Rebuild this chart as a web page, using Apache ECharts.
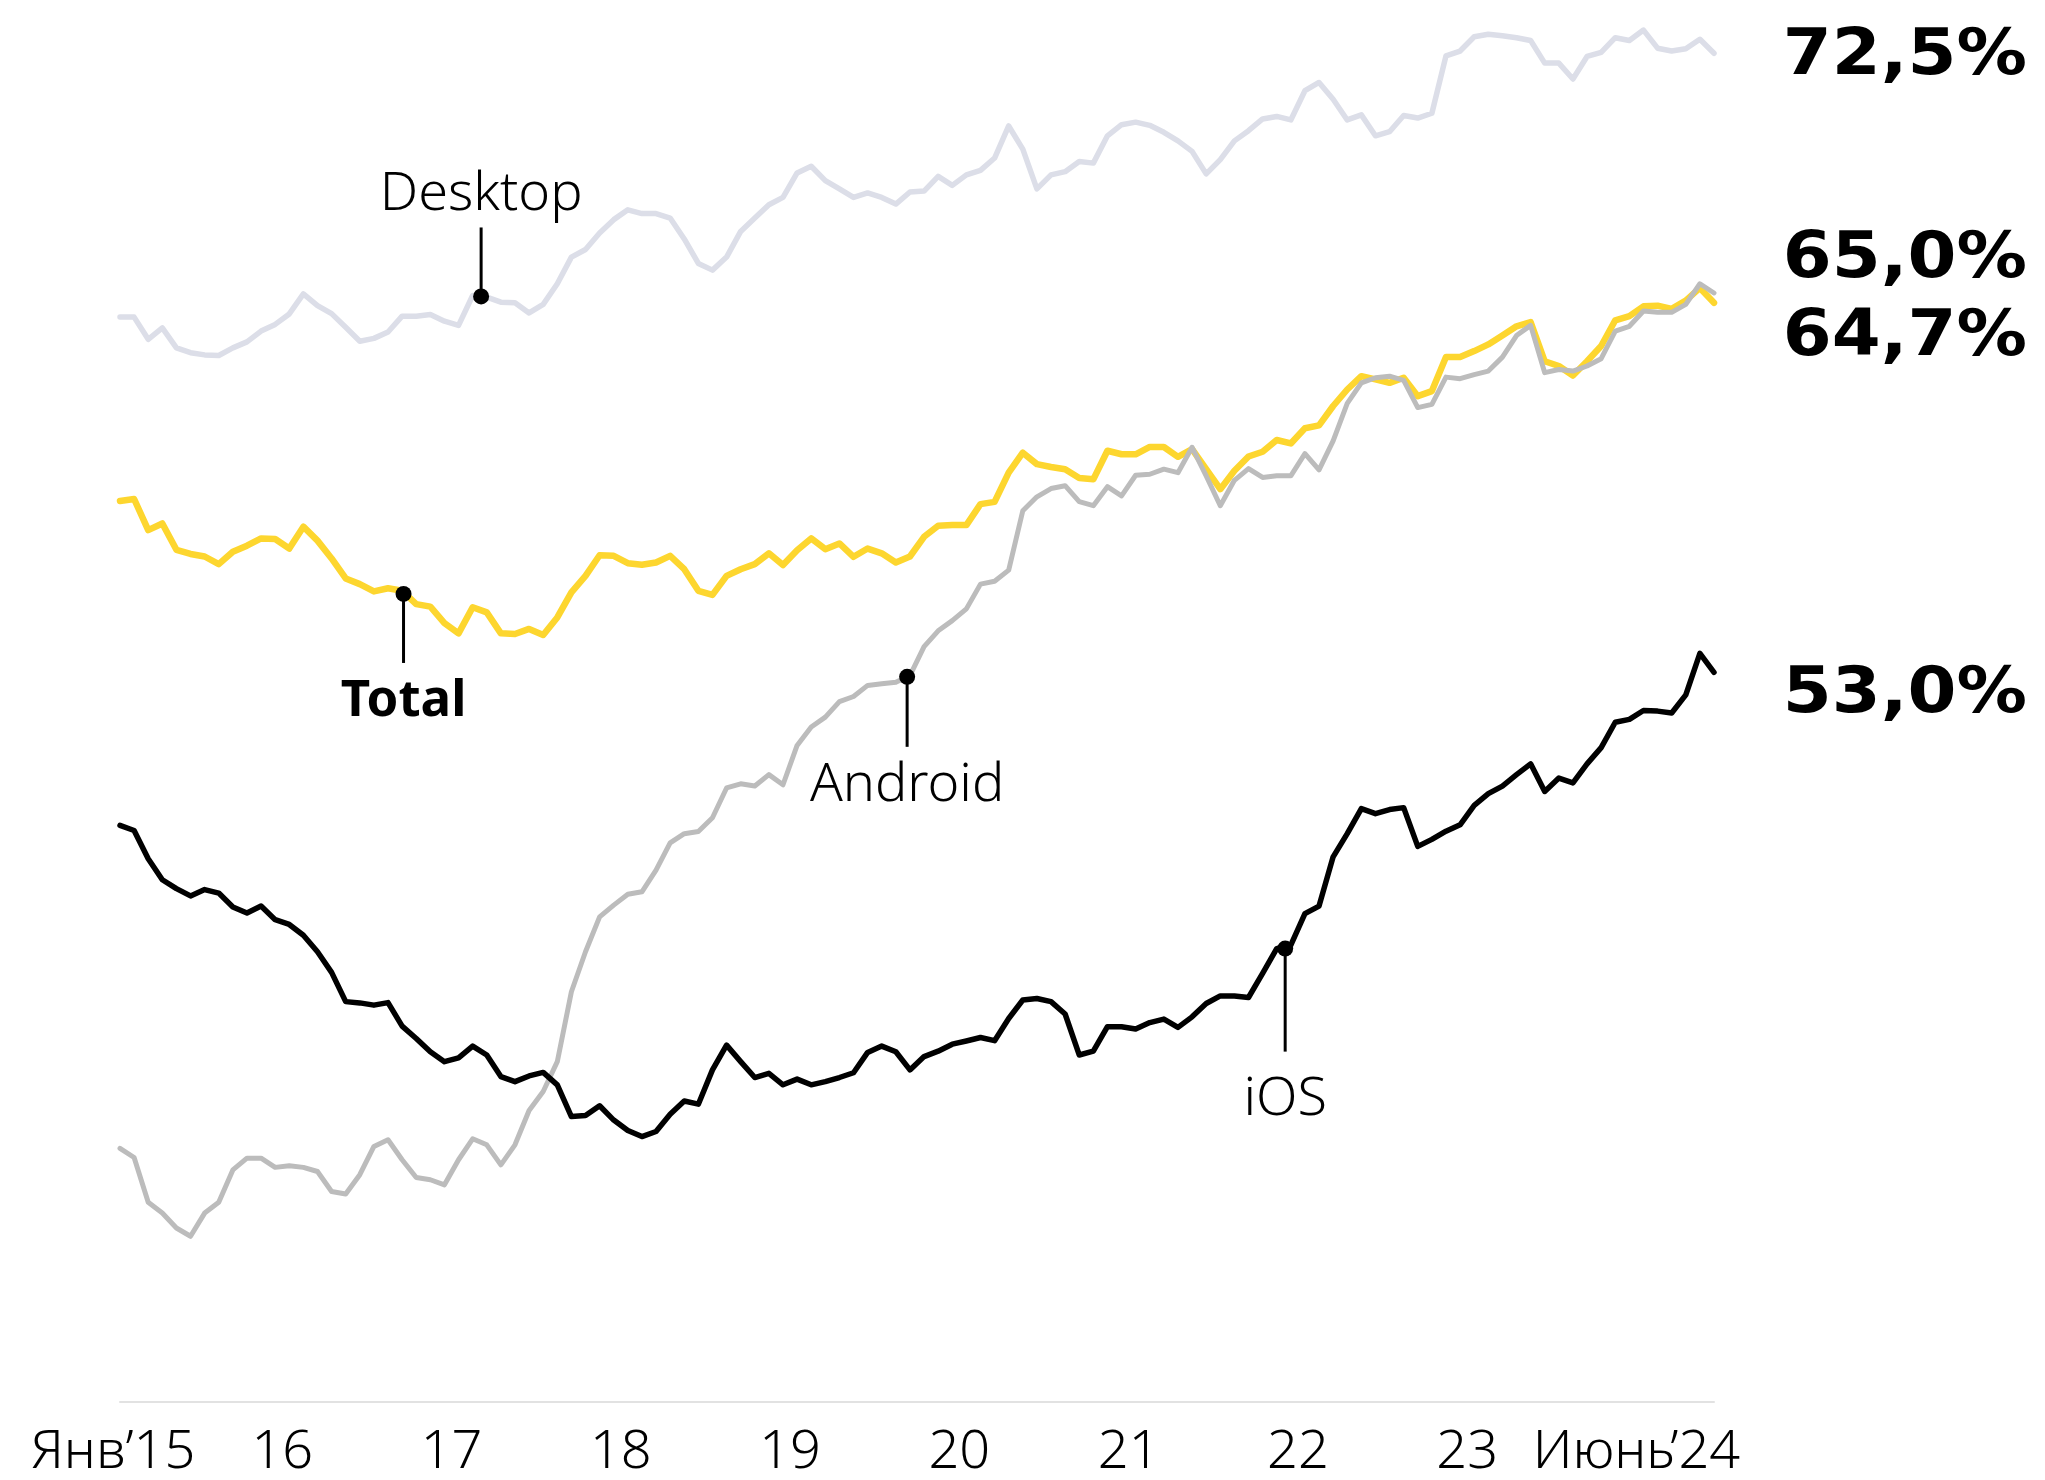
<!DOCTYPE html>
<html lang="ru">
<head>
<meta charset="UTF-8">
<title>Desktop / Total / Android / iOS</title>
<script src="https://cdn.jsdelivr.net/npm/echarts@6/dist/echarts.min.js"></script>
<style>
    html, body { margin: 0; padding: 0; background: #ffffff; }
    #chart { width: 2045px; height: 1480px; }
</style>
</head>
<body>
<div id="chart"></div>
<script>
// месяцы: Янв'15 ... Июнь'24 (114 точек)
var xTickLabels = ['Янв’15', '16', '17', '18', '19', '20', '21', '22', '23', 'Июнь’24'];

var desktop = [64.17,64.17,63.47,63.83,63.20,63.05,62.98,62.96,63.20,63.39,
    63.73,63.94,64.27,64.90,64.53,64.28,63.85,63.41,63.50,63.70,
    64.20,64.20,64.25,64.04,63.91,64.85,64.80,64.64,64.62,64.30,
    64.57,65.22,66.06,66.30,66.82,67.24,67.55,67.43,67.43,67.29,
    66.63,65.86,65.65,66.06,66.87,67.29,67.71,67.94,68.71,68.92,
    68.47,68.21,67.94,68.08,67.94,67.73,68.11,68.14,68.60,68.32,
    68.65,68.79,69.18,70.19,69.46,68.21,68.65,68.75,69.07,69.02,
    69.88,70.23,70.31,70.21,69.99,69.72,69.39,68.68,69.13,69.72,
    70.04,70.41,70.49,70.38,71.30,71.56,71.03,70.38,70.54,69.88,
    70.01,70.52,70.44,70.59,72.40,72.55,73.00,73.08,73.03,72.97,
    72.88,72.17,72.17,71.67,72.38,72.51,72.97,72.88,73.21,72.64,
    72.55,72.62,72.92,72.48];

var total = [58.38,58.44,57.46,57.67,56.84,56.71,56.63,56.39,56.78,56.97,
    57.20,57.18,56.88,57.57,57.13,56.57,55.94,55.76,55.53,55.63,
    55.55,55.13,55.05,54.53,54.21,55.03,54.87,54.21,54.19,54.35,
    54.16,54.71,55.50,56.02,56.67,56.65,56.42,56.37,56.44,56.65,
    56.23,55.55,55.42,56.02,56.23,56.39,56.73,56.36,56.83,57.20,
    56.86,57.04,56.62,56.88,56.73,56.44,56.63,57.25,57.60,57.62,
    57.62,58.28,58.35,59.27,59.90,59.54,59.45,59.38,59.10,59.06,
    59.96,59.85,59.85,60.08,60.08,59.77,60.01,59.38,58.75,59.33,
    59.78,59.93,60.30,60.19,60.67,60.76,61.37,61.89,62.31,62.21,
    62.10,62.26,61.68,61.84,62.91,62.91,63.10,63.31,63.59,63.88,
    64.01,62.78,62.63,62.33,62.78,63.26,64.07,64.20,64.51,64.53,
    64.43,64.69,65.09,64.62];

var android = [37.99,37.70,36.29,35.95,35.48,35.22,35.95,36.29,37.31,37.68,
    37.68,37.39,37.44,37.39,37.26,36.63,36.55,37.16,38.05,38.26,
    37.63,37.07,37.00,36.84,37.63,38.29,38.10,37.47,38.10,39.18,
    39.78,40.72,42.92,44.18,45.28,45.65,45.99,46.07,46.75,47.61,
    47.90,47.97,48.40,49.34,49.47,49.40,49.76,49.44,50.68,51.26,
    51.57,52.06,52.22,52.57,52.62,52.67,52.88,53.79,54.29,54.61,
    54.98,55.76,55.85,56.20,58.07,58.51,58.77,58.86,58.36,58.23,
    58.83,58.54,59.19,59.22,59.38,59.27,60.07,59.17,58.23,59.03,
    59.40,59.12,59.17,59.17,59.87,59.36,60.27,61.45,62.10,62.26,
    62.31,62.18,61.32,61.42,62.28,62.23,62.36,62.47,62.91,63.59,
    63.91,62.42,62.52,62.47,62.63,62.86,63.73,63.88,64.36,64.32,
    64.32,64.57,65.22,64.93];

var ios = [48.16,48.00,47.11,46.45,46.17,45.94,46.14,46.03,45.59,45.40,
    45.62,45.19,45.04,44.70,44.18,43.53,42.61,42.57,42.50,42.58,
    41.84,41.45,41.03,40.72,40.84,41.21,40.93,40.25,40.09,40.27,
    40.38,39.99,38.99,39.02,39.33,38.88,38.55,38.36,38.52,39.06,
    39.48,39.38,40.46,41.24,40.72,40.22,40.35,39.99,40.17,39.99,
    40.09,40.22,40.37,41.01,41.21,41.03,40.46,40.88,41.05,41.27,
    41.37,41.48,41.38,42.08,42.66,42.71,42.61,42.22,40.93,41.05,
    41.82,41.82,41.75,41.95,42.06,41.80,42.13,42.55,42.79,42.79,
    42.74,43.50,44.28,44.39,45.38,45.62,47.17,47.90,48.69,48.53,
    48.66,48.72,47.50,47.72,47.98,48.18,48.79,49.16,49.40,49.76,
    50.10,49.23,49.65,49.50,50.10,50.61,51.41,51.50,51.78,51.76,
    51.70,52.27,53.58,52.98];

// подписи в конце линий
var endLabels = ['72,5%', '65,0%', '64,7%', '53,0%'];

// выноски: имя и точка на линии [месяц, значение]
var noteNames = ['Desktop', 'Total', 'Android', 'iOS'];
var noteAt = [[25.6, 64.82], [20.1, 55.45], [55.8, 52.84], [82.6, 44.28]];

function pairs(arr) {
    return arr.map(function (v, i) { return [i, v]; });
}

var myChart = echarts.init(document.getElementById('chart'), null, { renderer: 'canvas' });

var option = {
    backgroundColor: '#ffffff',
    animation: false,
    grid: { left: 120, right: 331, top: 5, bottom: 76 },
    xAxis: {
        type: 'value',
        min: 0,
        max: 113,
        interval: 12,
        axisLine: { show: true, lineStyle: { color: '#e2e2e2', width: 2 } },
        axisTick: { show: false },
        splitLine: { show: false },
        axisLabel: {
            showMaxLabel: false,
            margin: 24,
            padding: [0, 14, 0, 0],
            fontFamily: 'Noto Sans',
            fontWeight: 300,
            fontSize: 54,
            color: '#000000',
            formatter: function (v) {
                return (v % 12 === 0 && v <= 108) ? xTickLabels[v / 12] : '';
            }
        }
    },
    yAxis: {
        type: 'value',
        min: 30,
        max: 74,
        show: false,
        splitLine: { show: false }
    },
    series: [
        {
            name: 'Desktop', type: 'line', showSymbol: false, z: 1,
            lineStyle: { color: '#dcdee8', width: 5.5, join: 'round', cap: 'round' },
            data: pairs(desktop)
        },
        {
            name: 'Total', type: 'line', showSymbol: false, z: 2,
            lineStyle: { color: '#fdd62f', width: 6.5, join: 'round', cap: 'round' },
            data: pairs(total)
        },
        {
            name: 'Android', type: 'line', showSymbol: false, z: 3,
            lineStyle: { color: '#bcbcbc', width: 5, join: 'round', cap: 'round' },
            data: pairs(android)
        },
        {
            name: 'iOS', type: 'line', showSymbol: false, z: 4,
            lineStyle: { color: '#000000', width: 5.5, join: 'round', cap: 'round' },
            data: pairs(ios)
        }
    ]
};

myChart.setOption(option);

// выноски с точками и подписями
var leadLen = [-69, 69, 70, 103];     // длина линии от точки
var textShift = [-102, 108, 109, 151]; // центр подписи от точки
var graphics = [];
noteAt.forEach(function (pt, k) {
    var p = myChart.convertToPixel({ gridIndex: 0 }, pt);
    var bold = noteNames[k] === 'Total';
    graphics.push({
        type: 'line', z: 10,
        shape: { x1: p[0], y1: p[1], x2: p[0], y2: p[1] + leadLen[k] },
        style: { stroke: '#000', lineWidth: 3 }
    });
    graphics.push({
        type: 'circle', z: 11,
        shape: { cx: p[0], cy: p[1], r: 8 },
        style: { fill: '#000' }
    });
    graphics.push({
        type: 'text', z: 11,
        x: p[0],
        y: p[1] + textShift[k],
        style: {
            text: noteNames[k],
            fontFamily: 'Noto Sans',
            fontSize: bold ? 51 : 54,
            fontWeight: bold ? 'bold' : 300,
            fill: '#000',
            align: 'center',
            verticalAlign: 'middle'
        }
    });
});

// итоговые значения справа
var endY = [57, 260, 338, 695];
endLabels.forEach(function (t, k) {
    graphics.push({
        type: 'text', z: 11,
        x: 2027,
        y: endY[k],
        scaleX: 1.1,
        style: {
            text: t,
            fontFamily: 'DejaVu Sans',
            fontWeight: 'bold',
            fontSize: 64,
            fill: '#000',
            align: 'right',
            verticalAlign: 'middle'
        }
    });
});

myChart.setOption({ graphic: graphics });
</script>
</body>
</html>
